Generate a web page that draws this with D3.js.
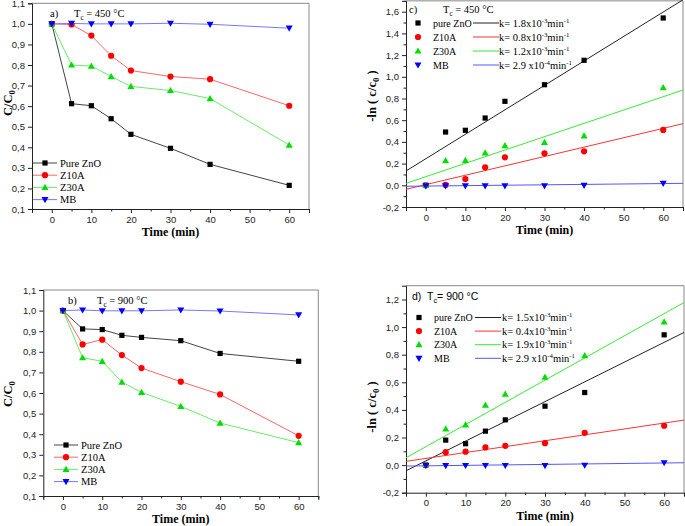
<!DOCTYPE html>
<html><head><meta charset="utf-8">
<script src="https://cdn.jsdelivr.net/npm/d3@7/dist/d3.min.js"></script>
<style>body{margin:0;background:#fff}svg{display:block}</style>
</head><body>
<script>
// ---------- DATA ----------
const time = [0, 5, 10, 15, 20, 30, 40, 60];
const seriesNames = ["Pure ZnO", "Z10A", "Z30A", "MB"];
const seriesNamesK = ["pure ZnO", "Z10A", "Z30A", "MB"];
// Panel a: C/C0, Tc = 450 °C
const a_ZnO  = [1.0, 0.612, 0.602, 0.539, 0.463, 0.395, 0.317, 0.215];
const a_Z10A = [1.0, 0.997, 0.943, 0.845, 0.773, 0.744, 0.731, 0.602];
const a_Z30A = [1.0, 0.800, 0.795, 0.744, 0.696, 0.676, 0.637, 0.411];
const a_MB   = [1.0, 1.002, 1.0, 1.0, 1.0, 1.003, 0.998, 0.979];
// Panel b: C/C0, Tc = 900 °C
const b_ZnO  = [1.0, 0.911, 0.908, 0.880, 0.870, 0.854, 0.792, 0.754];
const b_Z10A = [1.0, 0.836, 0.859, 0.784, 0.721, 0.655, 0.593, 0.392];
const b_Z30A = [1.0, 0.771, 0.754, 0.653, 0.603, 0.535, 0.454, 0.359];
const b_MB   = [1.0, 1.003, 0.999, 0.999, 0.999, 1.003, 0.998, 0.979];
// Panel c: -ln(c/c0), Tc = 450 °C
const c_ZnO  = [0.0, 0.491, 0.507, 0.620, 0.774, 0.927, 1.152, 1.542];
const c_Z10A = [0.0, 0.003, 0.058, 0.166, 0.258, 0.295, 0.313, 0.510];
const c_Z30A = [0.0, 0.227, 0.230, 0.298, 0.366, 0.396, 0.455, 0.900];
const c_MB   = [-0.005, -0.006, -0.005, -0.005, -0.005, -0.006, 0.0, 0.018];
// Panel d: -ln(c/c0), Tc = 900 °C
const d_ZnO  = [0.0, 0.181, 0.155, 0.246, 0.328, 0.427, 0.526, 0.944];
const d_Z10A = [0.0, 0.094, 0.097, 0.128, 0.140, 0.159, 0.234, 0.285];
const d_Z30A = [0.005, 0.263, 0.292, 0.435, 0.514, 0.637, 0.794, 1.038];
const d_MB   = [-0.003, -0.004, -0.003, -0.003, -0.003, -0.004, -0.001, 0.017];
// Fitted lines: value at t = -5 and t = 65
const fitX = [-5, 65];
const cFit_ZnO = [0.132, 1.71], cFit_Z10A = [-0.037, 0.568], cFit_Z30A = [0.018, 0.878], cFit_MB = [-0.009, 0.018];
const dFit_ZnO = [-0.041, 0.961], dFit_Z10A = [0.027, 0.326], dFit_Z30A = [0.053, 1.178], dFit_MB = [-0.007, 0.017];
// Rate constants (mantissa, exponent)
const cK = [["1.8", "-3"], ["0.8", "-3"], ["1.2", "-3"], ["2.9 ", "-4"]];
const dK = [["1.5", "-3"], ["0.4", "-3"], ["1.9", "-3"], ["2.9 ", "-4"]];
const xTicks = [0, 10, 20, 30, 40, 50, 60];
const xMinor = [-5, 5, 15, 25, 35, 45, 55, 65];
const yTicksAB = [0.1, 0.2, 0.3, 0.4, 0.5, 0.6, 0.7, 0.8, 0.9, 1.0, 1.1];
const yTicksC = [-0.2, 0.0, 0.2, 0.4, 0.6, 0.8, 1.0, 1.2, 1.4, 1.6];
const yTicksD = [-0.2, 0.0, 0.2, 0.4, 0.6, 0.8, 1.0, 1.2];

// ---------- STYLE ----------
const markColors = ["#000000", "#ff0000", "#00dd00", "#0000ff"];
const lineColorsAB = ["#444444", "#ff6666", "#66ee66", "#7777ff"];
const lineColorsCD = ["#222222", "#ff3333", "#33ee33", "#5555ff"];
const shapes = ["square", "circle", "triangle", "triangleDown"];
const SANS = "'Liberation Sans', Arial, sans-serif";
const SERIF = "'Liberation Serif', 'Times New Roman', serif";
const fmt = v => d3.format(".1f")(v).replace(".", ",").replace("−", "-");

const svg = d3.select("body").append("svg").attr("width", 685).attr("height", 526);

function marker(g, shape, x, y, color) {
  if (shape === "square") {
    g.append("rect").attr("x", x - 2.6).attr("y", y - 2.6).attr("width", 5.2).attr("height", 5.2).attr("fill", color);
  } else if (shape === "circle") {
    g.append("circle").attr("cx", x).attr("cy", y).attr("r", 3.1).attr("fill", color);
  } else if (shape === "triangle") {
    g.append("path").attr("d", `M${x},${y - 3.6}L${x + 3.5},${y + 2.6}L${x - 3.5},${y + 2.6}Z`).attr("fill", color);
  } else {
    g.append("path").attr("d", `M${x},${y + 3.6}L${x + 3.5},${y - 2.6}L${x - 3.5},${y - 2.6}Z`).attr("fill", color);
  }
}

function panel(cfg) {
  const x = d3.scaleLinear().domain([-5, 65]).range([cfg.left, cfg.right]);
  const y = d3.scaleLinear().domain(cfg.ydom).range([cfg.bottom, cfg.top]);
  const g = svg.append("g");
  g.append("line").attr("x1", cfg.left).attr("x2", cfg.right).attr("y1", cfg.top).attr("y2", cfg.top).attr("stroke", "#888").attr("stroke-width", 1);
  g.append("line").attr("x1", cfg.right).attr("x2", cfg.right).attr("y1", cfg.top).attr("y2", cfg.bottom).attr("stroke", "#888").attr("stroke-width", 1);
  const xa = g.append("g").attr("transform", `translate(0,${cfg.bottom})`)
    .call(d3.axisBottom(x).tickValues(xTicks).tickSize(4).tickPadding(3).tickFormat(d3.format("d")));
  const xm = g.append("g").attr("transform", `translate(0,${cfg.bottom})`)
    .call(d3.axisBottom(x).tickValues(xMinor).tickSize(2.5).tickFormat(""));
  xm.select(".domain").remove();
  const ya = g.append("g").attr("transform", `translate(${cfg.left},0)`)
    .call(d3.axisLeft(y).tickValues(cfg.yTicks).tickSize(4).tickPadding(3).tickFormat(fmt));
  const axes = [xa, xm, ya];
  if (cfg.yMinor) {
    const ym = g.append("g").attr("transform", `translate(${cfg.left},0)`)
      .call(d3.axisLeft(y).tickValues(cfg.yMinor).tickSize(2.5).tickFormat(""));
    ym.select(".domain").remove();
    axes.push(ym);
  }
  axes.forEach(a => {
    a.selectAll(".domain").attr("stroke", "#222").attr("stroke-width", 1);
    a.selectAll(".tick line").attr("stroke", "#222");
    a.selectAll("text").attr("font-family", SANS).attr("font-size", 9.5).attr("fill", "#222");
  });
  g.append("text").attr("x", (cfg.left + cfg.right) / 2).attr("y", cfg.bottom + 27)
    .attr("text-anchor", "middle").attr("font-family", SERIF).attr("font-weight", "bold").attr("font-size", 12).text("Time (min)");
  const yt = g.append("text").attr("transform", `translate(${cfg.ytX},${cfg.ytY}) rotate(-90)`)
    .attr("text-anchor", "middle").attr("font-family", SERIF).attr("font-weight", "bold").attr("font-size", 12.5);
  cfg.yTitle(yt);
  return { g, x, y };
}

function withSub(t, main, sub, rest) {
  t.append("tspan").text(main);
  t.append("tspan").attr("dy", 3).attr("font-size", "0.7em").text(sub);
  t.append("tspan").attr("dy", -3).text(rest);
}

function linePanel(cfg, data, label, tc, legTop, legX) {
  const p = panel(cfg);
  const line = d3.line().x((d, i) => p.x(time[i])).y(d => p.y(d));
  data.forEach((s, k) => {
    p.g.append("path").attr("d", line(s)).attr("fill", "none").attr("stroke", lineColorsAB[k]).attr("stroke-width", 1);
  });
  data.forEach((s, k) => {
    s.forEach((v, i) => marker(p.g, shapes[k], p.x(time[i]), p.y(v), markColors[k]));
  });
  p.g.append("text").attr("x", cfg.labelX).attr("y", cfg.labelY).attr("font-family", SERIF).attr("font-size", 10.5).text(label);
  const t = p.g.append("text").attr("x", cfg.tcX).attr("y", cfg.labelY).attr("font-family", SERIF).attr("font-size", 10.5);
  withSub(t, "T", "c", " = " + tc + " °C");
  seriesNames.forEach((n, k) => {
    const yy = legTop + k * 12.2;
    p.g.append("line").attr("x1", legX).attr("x2", legX + 24).attr("y1", yy).attr("y2", yy).attr("stroke", lineColorsAB[k]).attr("stroke-width", 1);
    marker(p.g, shapes[k], legX + 12, yy, markColors[k]);
    p.g.append("text").attr("x", legX + 27).attr("y", yy + 3.5).attr("font-family", SERIF).attr("font-size", 10.5).text(n);
  });
}

linePanel({ left: 32, right: 309, top: 3.3, bottom: 209, ydom: [0.1, 1.1], yTicks: yTicksAB,
  ytX: 12, ytY: 103, labelX: 50, labelY: 17, tcX: 74,
  yTitle: t => withSub(t, "C/C", "0", "") },
  [a_ZnO, a_Z10A, a_Z30A, a_MB], "a)", "450", 163, 33);

linePanel({ left: 43.3, right: 318.3, top: 290, bottom: 496, ydom: [0.1, 1.1], yTicks: yTicksAB,
  ytX: 12, ytY: 394, labelX: 68, labelY: 304, tcX: 97,
  yTitle: t => withSub(t, "C/C", "0", "") },
  [b_ZnO, b_Z10A, b_Z30A, b_MB], "b)", "900", 445, 54);

function kinPanel(cfg, data, fits, ks, label, tc, legTop, legStep, legX, lineX, kX, labelFont) {
  const p = panel(cfg);
  const line = d3.line().x((d, i) => p.x(fitX[i])).y(d => p.y(d));
  fits.forEach((f, k) => {
    p.g.append("path").attr("d", line(f)).attr("fill", "none").attr("stroke", lineColorsCD[k]).attr("stroke-width", 1);
  });
  data.forEach((s, k) => {
    s.forEach((v, i) => marker(p.g, shapes[k], p.x(time[i]), p.y(v), markColors[k]));
  });
  p.g.append("text").attr("x", cfg.labelX).attr("y", cfg.labelY).attr("font-family", labelFont).attr("font-size", 10.5).text(label);
  const t = p.g.append("text").attr("x", cfg.tcX).attr("y", cfg.labelY).attr("font-family", labelFont).attr("font-size", 10.5);
  withSub(t, "T", "c", cfg.tcSep + tc + " °C");
  seriesNamesK.forEach((n, k) => {
    const yy = legTop + k * legStep;
    marker(p.g, shapes[k], legX, yy, markColors[k]);
    p.g.append("text").attr("x", legX + 15).attr("y", yy + 3.5).attr("font-family", SERIF).attr("font-size", 10).text(n);
    p.g.append("line").attr("x1", lineX + 1).attr("x2", lineX + 27).attr("y1", yy).attr("y2", yy).attr("stroke", lineColorsCD[k]).attr("stroke-width", 1);
    const kt = p.g.append("text").attr("x", kX).attr("y", yy + 3.5).attr("font-family", SERIF).attr("font-size", 10.5);
    kt.append("tspan").text("k= " + ks[k][0] + "x10");
    kt.append("tspan").attr("dy", -4).attr("font-size", "0.65em").text(ks[k][1]);
    kt.append("tspan").attr("dy", 4).text("min");
    kt.append("tspan").attr("dy", -4).attr("font-size", "0.65em").text("-1");
  });
}

const lnTitle = t => { t.append("tspan").text("-ln ( c/c"); t.append("tspan").attr("dy", 3).attr("font-size", "0.7em").text("0"); t.append("tspan").attr("dy", -3).text(" )"); };

kinPanel({ left: 406, right: 683, top: 0.85, bottom: 207, ydom: [-0.2, 1.7], yTicks: yTicksC,
  yMinor: [-0.1, 0.1, 0.3, 0.5, 0.7, 0.9, 1.1, 1.3, 1.5, 1.7],
  ytX: 376, ytY: 96, labelX: 409, labelY: 13, tcX: 443, tcSep: " = ", yTitle: lnTitle },
  [c_ZnO, c_Z10A, c_Z30A, c_MB], [cFit_ZnO, cFit_Z10A, cFit_Z30A, cFit_MB], cK, "c)", "450",
  23, 14, 418, 472, 499, SERIF);

kinPanel({ left: 406, right: 684, top: 285.7, bottom: 492.7, ydom: [-0.2, 1.3], yTicks: yTicksD,
  yMinor: [-0.1, 0.1, 0.3, 0.5, 0.7, 0.9, 1.1],
  ytX: 376, ytY: 407, labelX: 412, labelY: 300, tcX: 427, tcSep: "= ", yTitle: lnTitle },
  [d_ZnO, d_Z10A, d_Z30A, d_MB], [dFit_ZnO, dFit_Z10A, dFit_Z30A, dFit_MB], dK, "d)", "900",
  317.5, 13.6, 419, 474, 502, SANS);
</script>
</body></html>
